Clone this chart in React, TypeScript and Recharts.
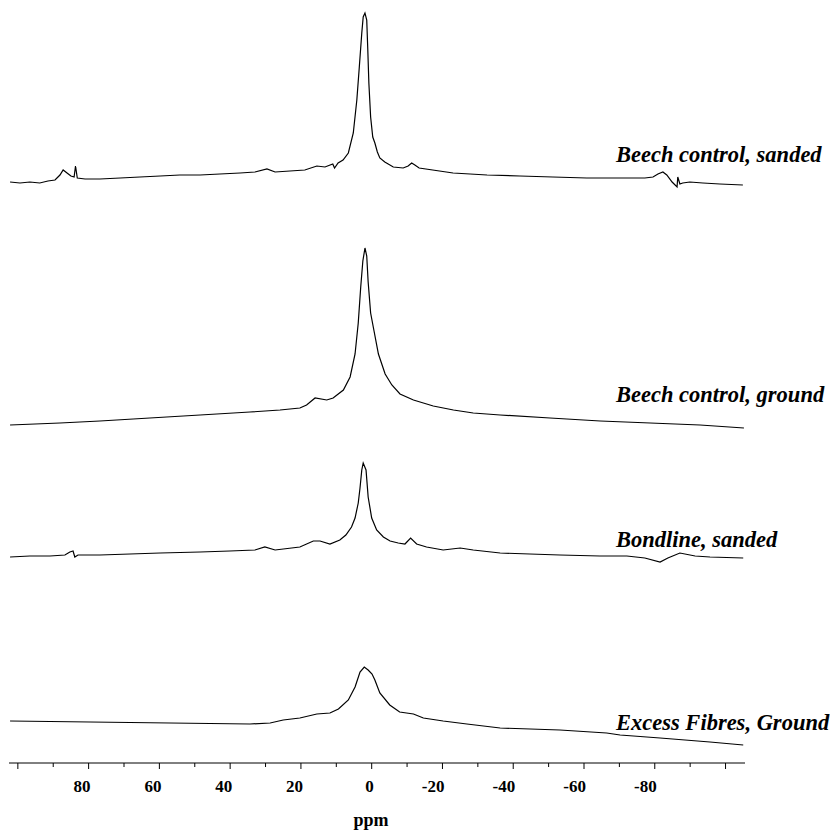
import { LineChart, Line, XAxis, YAxis } from 'recharts';

const FONT = '"Liberation Serif", "Times New Roman", serif';

const tickValues = [100, 90, 80, 70, 60, 50, 40, 30, 20, 10, 0, -10, -20, -30, -40, -50, -60, -70, -80, -90, -100];
const labelledTicks = [80, 60, 40, 20, 0, -20, -40, -60, -80];

// Beech control, sanded
const sandedPpm = [102.2, 99.4, 96.6, 93.8, 91.5, 89.5, 88.1, 87.2, 86.1, 85.0, 84.1, 83.7, 83.2, 81.0, 76.8, 71.1, 65.5, 59.8, 54.2, 48.5, 42.9, 37.2, 33.0, 29.6, 27.3, 23.1, 18.9, 15.5, 13.2, 11.0, 10.5, 9.5, 8.1, 6.6, 5.2, 4.2, 3.5, 2.8, 2.4, 1.9, 1.4, 1.1, 0.8, 0.3, -0.3, -0.9, -1.6, -2.3, -3.7, -6.1, -8.9, -10.3, -11.3, -12.2, -13.4, -23.0, -32.6, -41.9, -51.2, -60.8, -70.1, -77.2, -79.5, -80.9, -82.3, -83.4, -84.9, -86.3, -86.5, -87.1, -87.9, -89.9, -93.6, -98.4, -104.9];
const sandedI = [3, 2, 3, 2, 4, 5, 10, 15, 12, 9, 8, 19, 7, 6, 6, 7, 8, 9, 10, 10, 11, 12, 13, 16, 13, 14, 15, 19, 18, 21, 17, 22, 25, 32, 52, 85, 118, 152, 168, 172, 165, 135, 102, 68, 48, 42, 33, 27, 23, 18, 17, 19, 22, 20, 17, 12, 10, 9, 8, 7, 7, 7, 8, 11, 13, 10, 3, -2, 8, 1, 2, 3, 2, 1, 0];

// Beech control, ground
const groundPpm = [102.2, 88.1, 76.8, 62.7, 48.5, 34.4, 25.9, 20.3, 18.4, 16.0, 12.7, 10.9, 8.0, 6.1, 4.7, 3.8, 3.1, 2.5, 1.9, 1.4, 1.0, 0.3, -0.5, -1.9, -3.8, -5.7, -8.0, -11.8, -17.4, -23.1, -28.7, -36.3, -50.4, -64.6, -78.7, -92.8, -105.2];
const groundI = [3, 5, 7, 10, 13, 16, 18, 20, 23, 30, 28, 30, 38, 51, 74, 105, 141, 167, 180, 172, 146, 115, 100, 74, 54, 43, 34, 28, 22, 18, 15, 13, 10, 7, 5, 3, 0];

// Bondline, sanded
const bondPpm = [102.2, 96.6, 90.9, 86.7, 85.3, 84.4, 83.9, 83.0, 76.8, 68.3, 59.8, 48.5, 40.1, 33.0, 30.2, 27.3, 20.3, 16.5, 14.6, 11.8, 9.0, 7.3, 5.7, 4.7, 3.8, 3.3, 2.8, 2.4, 1.6, 1.0, 0, -1.4, -3.3, -5.2, -7.5, -9.4, -11.0, -12.7, -15.5, -20.2, -25.0, -28.7, -36.3, -44.7, -53.2, -64.5, -72.1, -77.2, -81.5, -83.7, -87.1, -91.4, -95.6, -105.0];
const bondI = [1, 2, 2, 3, 6, 7, 1, 3, 3, 4, 5, 6, 7, 8, 11, 8, 11, 17, 17, 14, 18, 23, 31, 40, 55, 70, 88, 95, 88, 61, 40, 28, 21, 17, 15, 14, 20, 14, 11, 8, 10, 8, 5, 4, 3, 2, 2, 0, -4, 0, 5, 2, 1, 0];

// Excess Fibres, Ground
const fibrePpm = [102.2, 79.6, 57.0, 34.4, 28.7, 25.0, 20.3, 15.5, 11.8, 9.4, 6.6, 4.7, 3.3, 2.1, 1.0, -0.1, -0.9, -2.3, -5.1, -7.9, -11.8, -14.6, -20.2, -26.9, -36.3, -53.2, -66.4, -70.2, -81.5, -95.6, -105.0];
const fibreI = [24, 23, 22, 21, 22, 25, 27, 31, 32, 36, 45, 58, 73, 78, 75, 71, 65, 52, 40, 33, 31, 27, 24, 21, 17, 15, 12, 10, 7, 3, 0];

const seriesNames = ['Beech control, sanded', 'Beech control, ground', 'Bondline, sanded', 'Excess Fibres, Ground'];
// vertical stacking offset of each spectrum, in intensity units
const stackOffsets = [578, 335, 205, 18];

const spectra = [
  [sandedPpm, sandedI],
  [groundPpm, groundI],
  [bondPpm, bondI],
  [fibrePpm, fibreI],
].map(([ppm, inten], k) =>
  ppm.map((p, i) => ({ ppm: p, v: inten[i] + stackOffsets[k] }))
);

const labelY = [154, 394, 539, 722];

function PpmTick(props: any) {
  const { x, y, payload } = props;
  const v = payload.value as number;
  const major = v % 20 === 0;
  return (
    <g>
      <line x1={x} x2={x} y1={y} y2={y + (major ? 6 : 4)} stroke="#000" strokeWidth={1} />
      {labelledTicks.includes(v) && (
        <text
          x={x + 2}
          y={y + 29}
          textAnchor="end"
          fontFamily={FONT}
          fontWeight="bold"
          fontSize={17}
          fill="#000"
        >
          {v}
        </text>
      )}
    </g>
  );
}

export default function App() {
  return (
    <div style={{ position: 'relative', width: 830, height: 826, background: '#fff' }}>
      <LineChart width={830} height={826} margin={{ top: 0, right: 93, bottom: 0, left: 1 }}>
        <XAxis
          type="number"
          dataKey="ppm"
          domain={[-105.5, 102.5]}
          reversed
          allowDataOverflow
          ticks={tickValues}
          interval={0}
          tick={<PpmTick />}
          tickLine={false}
          tickSize={0}
          tickMargin={0}
          height={71}
          axisLine={{ stroke: '#000', strokeWidth: 1 }}
        />
        <YAxis hide type="number" domain={[0, 755]} allowDataOverflow />
        {spectra.map((rows, k) => (
          <Line
            key={seriesNames[k]}
            data={rows}
            dataKey="v"
            type="linear"
            stroke="#000"
            strokeWidth={1.2}
            dot={false}
            isAnimationActive={false}
          />
        ))}
      </LineChart>
      <svg
        width={830}
        height={826}
        style={{ position: 'absolute', left: 0, top: 0, pointerEvents: 'none' }}
      >
        {seriesNames.map((name, k) => (
          <text
            key={name}
            x={608}
            y={labelY[k]}
            fontFamily={FONT}
            fontWeight="bold"
            fontStyle="italic"
            fontSize={22.5}
            fill="#000"
          >
            {name}
          </text>
        ))}
        <text x={363} y={818} textAnchor="middle" fontFamily={FONT} fontWeight="bold" fontSize={18} fill="#000">
          ppm
        </text>
      </svg>
    </div>
  );
}
